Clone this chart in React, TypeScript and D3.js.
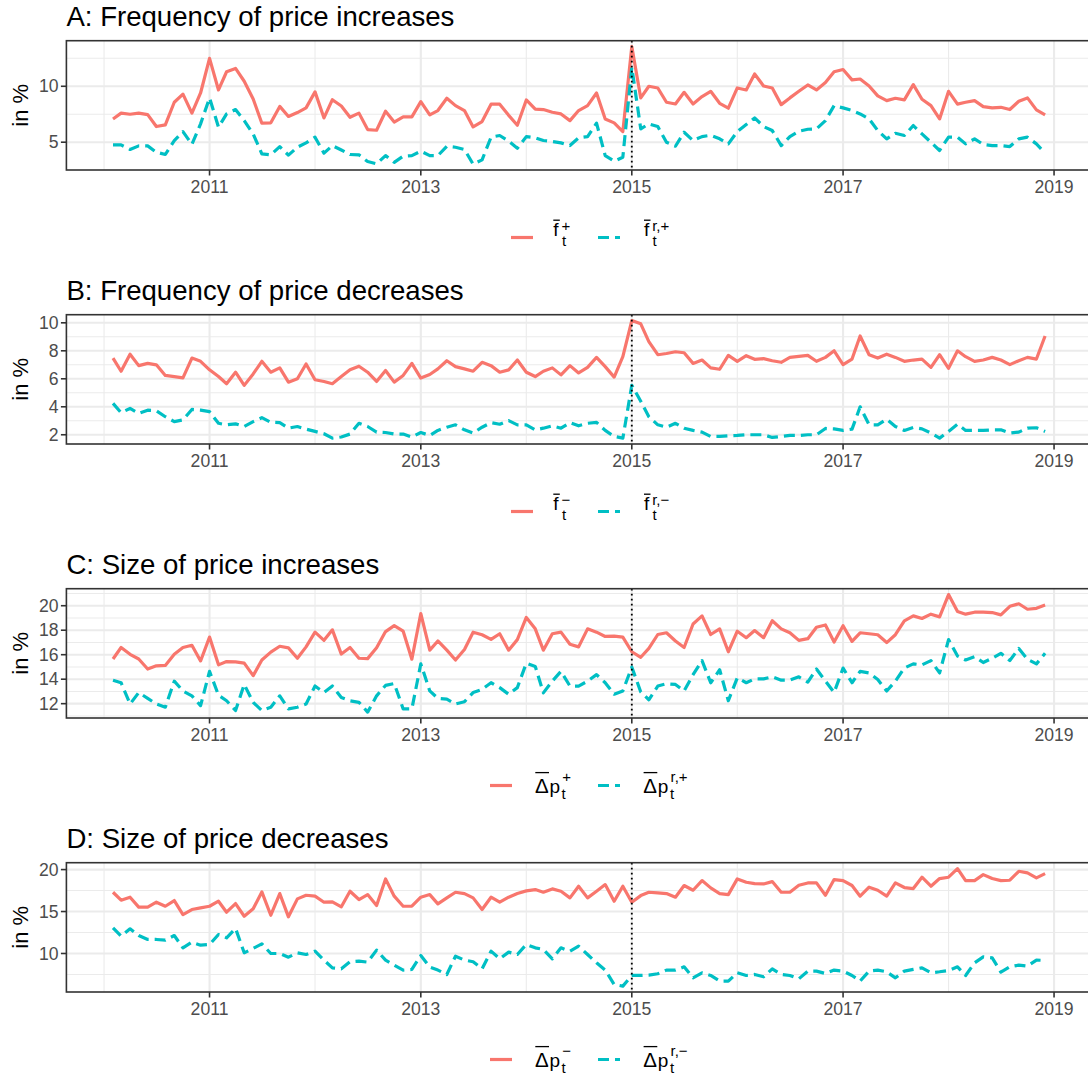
import React from "react";
import * as d3 from "d3";

// monthly observations, Feb 2010 .. Dec 2018
const months = d3.timeMonth.range(new Date(2010, 1, 1), new Date(2019, 0, 1));

// A: frequency of price increases
const freqIncAll = [
  7.08, 7.6, 7.5, 7.6, 7.47, 6.4, 6.55, 8.57, 9.3, 7.6, 9.4,
  12.5, 9.67, 11.3, 11.6, 10.45, 8.87, 6.7, 6.73, 8.2, 7.3, 7.65, 8.07,
  9.5, 7.17, 8.8, 8.24, 7.23, 7.6, 6.13, 6.07, 7.77, 6.8, 7.26, 7.26,
  8.63, 7.44, 7.83, 8.93, 8.27, 7.83, 6.37, 6.85, 8.4, 8.4, 7.4, 6.52,
  8.78, 7.95, 7.92, 7.68, 7.53, 6.93, 7.83, 8.27, 9.4, 7.08, 6.73, 5.95,
  13.55, 8.96, 10.0, 9.85, 8.57, 8.42, 9.46, 8.42, 9.08, 9.55, 8.48, 8.04,
  9.85, 9.67, 11.1, 10.03, 9.85, 8.36, 8.96, 9.55, 10.12, 9.67, 10.33, 11.3,
  11.5, 10.57, 10.65, 10.03, 9.14, 8.72, 8.93, 8.78, 10.15, 8.84, 8.27, 7.08,
  9.55, 8.4, 8.57, 8.72, 8.18, 8.07, 8.12, 7.92, 8.66, 8.96, 7.89, 7.44,
];
const freqIncReg = [
  4.76, 4.76, 4.35, 4.67, 4.67, 4.1, 3.9, 5.15, 5.95, 4.8, 6.64,
  8.96, 6.34, 7.53, 7.92, 6.93, 5.74, 3.96, 3.87, 4.61, 3.84, 4.55, 4.94,
  5.45, 4.02, 4.7, 4.3, 3.9, 3.87, 3.27, 3.07, 3.8, 3.2, 3.75, 3.8,
  4.2, 3.8, 3.8, 4.64, 4.55, 4.35, 3.04, 3.42, 5.45, 5.6, 5.1, 4.46,
  5.5, 5.39, 5.15, 5.06, 4.94, 4.7, 5.39, 5.5, 6.7, 3.8, 3.3, 3.66,
  11.7, 6.19, 6.64, 6.4, 5.0, 4.64, 5.89, 5.15, 5.5, 5.62, 5.3, 4.85,
  5.95, 6.58, 7.17, 6.4, 6.04, 4.7, 5.5, 5.98, 6.16, 6.19, 6.93, 8.27,
  8.07, 7.83, 7.53, 7.08, 6.04, 5.3, 5.8, 5.6, 6.49, 5.74, 5.0, 4.26,
  5.45, 5.45, 4.85, 5.3, 4.8, 4.7, 4.7, 4.61, 5.3, 5.45, 4.85, 4.04,
];

// B: frequency of price decreases
const freqDecAll = [
  7.48, 6.54, 7.76, 6.94, 7.1, 7.0, 6.24, 6.16, 6.07, 7.48, 7.25,
  6.64, 6.16, 5.65, 6.47, 5.53, 6.35, 7.25, 6.47, 6.78, 5.76, 6.0, 7.06,
  5.93, 5.81, 5.65, 6.16, 6.64, 6.9, 6.47, 5.81, 6.59, 5.76, 6.24, 7.1,
  6.05, 6.31, 6.71, 7.29, 6.87, 6.71, 6.54, 7.18, 6.94, 6.47, 6.64, 7.34,
  6.47, 6.16, 6.54, 6.78, 6.28, 6.94, 6.42, 6.82, 7.53, 6.87, 6.12, 7.58,
  10.16, 9.93, 8.66, 7.72, 7.81, 7.93, 7.86, 7.1, 7.34, 6.78, 6.68, 7.67,
  7.25, 7.65, 7.39, 7.44, 7.29, 7.18, 7.53, 7.6, 7.67, 7.25, 7.53, 8.0,
  7.01, 7.41, 9.06, 7.72, 7.48, 7.76, 7.53, 7.25, 7.34, 7.41, 6.82, 7.72,
  6.75, 8.0, 7.58, 7.25, 7.34, 7.53, 7.34, 7.01, 7.29, 7.53, 7.41, 9.06,
];
const freqDecReg = [
  4.24, 3.58, 3.88, 3.53, 3.76, 3.72, 3.29, 2.94, 3.06, 3.81, 3.76,
  3.65, 2.82, 2.71, 2.78, 2.59, 2.94, 3.22, 2.89, 2.87, 2.47, 2.59, 2.4,
  2.24, 2.07, 1.76, 1.84, 2.05, 2.82, 2.59, 2.19, 2.16, 2.05, 2.05, 1.84,
  2.16, 1.95, 2.31, 2.54, 2.71, 2.35, 2.12, 2.54, 2.87, 2.75, 3.01, 2.71,
  2.71, 2.35, 2.47, 2.64, 2.47, 2.87, 2.64, 2.82, 2.89, 2.31, 1.88, 1.76,
  5.53, 4.4, 3.29, 2.71, 2.54, 2.82, 2.47, 2.31, 2.19, 1.88, 1.88, 1.93,
  1.95, 2.0, 2.0, 2.0, 1.81, 1.88, 1.95, 1.95, 2.0, 2.0, 2.45, 2.42,
  2.31, 2.4, 4.0, 2.71, 2.71, 3.11, 2.59, 2.31, 2.52, 2.42, 2.12, 1.76,
  2.24, 2.75, 2.31, 2.31, 2.31, 2.35, 2.35, 2.12, 2.19, 2.47, 2.5, 2.24,
];

// C: size of price increases
const sizeIncAll = [
  15.65, 16.59, 16.03, 15.65, 14.83, 15.09, 15.12, 16.03, 16.59, 16.77, 15.49,
  17.44, 15.17, 15.44, 15.41, 15.31, 14.29, 15.57, 16.21, 16.69, 16.56, 15.71, 16.64,
  17.84, 17.17, 18.03, 16.05, 16.59, 15.71, 15.68, 16.56, 17.89, 18.37, 17.92, 15.63,
  19.36, 16.37, 17.12, 16.37, 15.57, 16.43, 17.84, 17.63, 17.25, 17.71, 16.37, 17.23,
  19.04, 18.11, 16.37, 17.71, 17.84, 16.85, 16.64, 18.11, 17.84, 17.49, 17.52, 17.44,
  16.24, 15.79, 16.51, 17.65, 17.79, 17.12, 16.59, 18.51, 19.17, 17.65, 18.11, 16.24,
  17.92, 17.39, 17.97, 17.39, 18.77, 18.11, 17.79, 17.17, 17.31, 18.24, 18.43, 17.04,
  18.37, 17.09, 17.79, 17.71, 17.63, 16.99, 17.63, 18.77, 19.17, 18.96, 19.31, 19.09,
  20.91, 19.52, 19.31, 19.47, 19.47, 19.44, 19.25, 19.95, 20.16, 19.71, 19.79, 20.05,
];
const sizeIncReg = [
  13.92, 13.71, 11.97, 12.91, 12.43, 11.97, 11.71, 13.84, 13.04, 12.64, 11.84,
  14.64, 12.69, 12.24, 11.44, 13.57, 12.11, 11.44, 11.71, 12.64, 11.57, 11.71, 11.97,
  13.44, 12.91, 13.44, 12.51, 12.24, 12.11, 11.31, 12.64, 13.49, 13.65, 11.57, 11.57,
  15.25, 13.04, 12.43, 12.37, 11.97, 12.16, 12.91, 13.17, 13.71, 13.31, 12.77, 13.31,
  15.31, 15.04, 12.88, 13.84, 14.64, 13.44, 13.44, 13.84, 14.37, 13.71, 12.77, 13.04,
  14.99, 12.96, 12.32, 13.44, 13.63, 13.57, 13.04, 14.37, 15.52, 13.71, 14.77, 12.24,
  14.11, 13.71, 14.03, 14.03, 14.19, 13.92, 13.92, 14.19, 13.76, 14.83, 13.84, 12.91,
  14.91, 13.71, 14.64, 14.51, 13.97, 13.04, 13.84, 14.91, 15.25, 15.17, 15.52, 14.51,
  17.23, 15.89, 15.57, 15.84, 15.36, 15.71, 16.11, 15.52, 16.51, 15.63, 15.25, 16.11,
];

// D: size of price decreases
const sizeDecAll = [
  17.3, 16.35, 16.71, 15.52, 15.52, 16.11, 15.63, 16.31, 14.64, 15.24, 15.44,
  15.63, 16.23, 14.92, 15.95, 14.44, 15.32, 17.34, 14.56, 17.14, 14.37, 16.51, 16.94,
  16.83, 16.11, 16.15, 15.56, 17.42, 16.43, 17.02, 15.71, 18.89, 16.83, 15.63, 15.63,
  16.71, 17.02, 15.91, 16.63, 17.3, 17.14, 16.63, 15.24, 16.71, 16.11, 16.71, 17.14,
  17.46, 17.62, 17.3, 17.7, 17.42, 16.63, 18.02, 16.63, 17.42, 18.21, 16.23, 18.02,
  16.11, 16.9, 17.3, 17.22, 17.14, 16.71, 18.1, 17.54, 18.69, 17.82, 17.14, 17.02,
  18.89, 18.49, 18.33, 18.29, 18.57, 17.3, 17.3, 18.13, 18.41, 18.41, 16.94, 18.81,
  18.69, 18.1, 16.83, 17.9, 17.54, 16.83, 18.41, 17.86, 17.74, 19.09, 18.02, 18.93,
  19.09, 20.12, 18.69, 18.69, 19.4, 18.93, 18.69, 18.73, 19.8, 19.6, 19.01, 19.52,
];
const sizeDecReg = [
  13.06, 12.06, 12.94, 12.14, 11.67, 11.67, 11.59, 12.14, 10.67, 11.35, 10.99,
  11.07, 12.26, 11.87, 12.98, 10.08, 10.6, 11.15, 10.0, 10.0, 9.56, 10.08, 9.88,
  10.28, 9.21, 8.29, 8.17, 9.01, 9.09, 8.97, 10.4, 9.21, 8.61, 8.02, 8.1,
  9.76, 8.37, 8.02, 7.5, 9.68, 9.21, 9.01, 8.17, 10.28, 9.37, 10.16, 9.88,
  11.07, 10.67, 10.48, 9.37, 10.67, 10.28, 10.87, 9.88, 8.89, 8.02, 6.31, 6.11,
  7.38, 7.38, 7.42, 7.58, 8.02, 8.02, 8.41, 7.1, 7.7, 7.38, 6.71, 6.71,
  7.7, 7.38, 7.5, 7.22, 8.17, 7.5, 7.38, 6.98, 7.9, 7.9, 7.62, 8.02,
  7.9, 7.38, 6.71, 7.9, 8.02, 7.82, 7.1, 7.9, 8.1, 8.29, 7.7, 7.82,
  7.98, 8.41, 7.38, 8.89, 9.6, 9.48, 7.78, 8.41, 8.61, 8.49, 9.21, 9.17,
];

const panelTitles = [
  "A: Frequency of price increases",
  "B: Frequency of price decreases",
  "C: Size of price increases",
  "D: Size of price decreases",
];
const yTicksA = [5, 10];
const yTicksB = [2, 4, 6, 8, 10];
const yTicksC = [12, 14, 16, 18, 20];
const yTicksD = [10, 15, 20];
const xTickYears = [2011, 2013, 2015, 2017, 2019];
const xMinorYears = [2010, 2012, 2014, 2016, 2018];
const breakDate = new Date(2015, 0, 1);

// legend labels: base symbol (with bar over first glyph), superscripts of the two series
const legendBase = ["f", "f", "Δp", "Δp"];
const legendSups = [["+", "r,+"], ["−", "r,−"], ["+", "r,+"], ["−", "r,−"]];

const W = 1088;
const H = 1076;
const FONT = '"Liberation Sans", Arial, Helvetica, sans-serif';
const RED = "#F8766D";
const CYAN = "#00BFC4";
const GRID = "#EBEBEB";
const DARK = "#333333";
const AXIS_TXT = "#4D4D4D";
const LEFT = 66.4;
const RIGHT = 1091.7;
const TOP0 = 40.7;
const STEP = 274;
const PH = 129.3;

const panels = [
  { all: freqIncAll, reg: freqIncReg, ticks: yTicksA },
  { all: freqDecAll, reg: freqDecReg, ticks: yTicksB },
  { all: sizeIncAll, reg: sizeIncReg, ticks: yTicksC },
  { all: sizeDecAll, reg: sizeDecReg, ticks: yTicksD },
];

const t0 = +months[0];
const t1 = +months[months.length - 1];
const xPad = (t1 - t0) * 0.05;
const x = d3.scaleTime().domain([new Date(t0 - xPad), new Date(t1 + xPad)]).range([LEFT, RIGHT]);

function LegendLabel({ x0, base, sup, keyY }: { x0: number; base: string; sup: string; keyY: number }) {
  const delta = base.startsWith("Δ");
  if (delta) {
    const bl = keyY + 7.4;
    return (
      <g fontFamily={FONT} fill="#000">
        <text x={x0} y={bl} fontSize={20.5}>Δ</text>
        <line x1={x0 + 0.3} x2={x0 + 14} y1={bl - 20.3} y2={bl - 20.3} stroke="#000" strokeWidth={1.3} />
        <text x={x0 + 14.4} y={bl} fontSize={19}>p</text>
        <text x={x0 + 27.2} y={bl - 11} fontSize={15}>{sup}</text>
        <text x={x0 + 26.6} y={bl + 6} fontSize={15}>t</text>
      </g>
    );
  }
  const bl = keyY - 1.5;
  return (
    <g fontFamily={FONT} fill="#000">
      <text x={x0} y={bl} fontSize={19}>f</text>
      <line x1={x0} x2={x0 + 6.5} y1={bl - 15.8} y2={bl - 15.8} stroke="#000" strokeWidth={1.3} />
      <text x={x0 + 8.2} y={bl - 5.4} fontSize={15}>{sup}</text>
      <text x={x0 + 8.6} y={bl + 10.2} fontSize={15}>t</text>
    </g>
  );
}

function Panel({ idx }: { idx: number }) {
  const { all, reg, ticks } = panels[idx];
  const top = TOP0 + idx * STEP;
  const bottom = top + PH;
  const [lo, hi] = d3.extent(all.concat(reg)) as [number, number];
  const pad = (hi - lo) * 0.05;
  const y = d3.scaleLinear().domain([lo - pad, hi + pad]).range([bottom, top]);
  const st = ticks[1] - ticks[0];
  const minor = d3.range(ticks[0] - st / 2, hi + pad, st).filter((v) => v >= lo - pad && v <= hi + pad);
  const line = d3.line<number>().x((_, i) => x(months[i])).y((d) => y(d)).curve(d3.curveLinear);

  const keyY = bottom + 67.5;
  const delta = legendBase[idx].startsWith("Δ");
  const x0 = delta ? 490 : 511;
  const lab1 = delta ? 535 : 553.3;
  const keyB = 598;
  const lab2 = delta ? 643.3 : 644;

  return (
    <g>
      <text x={LEFT} y={top - 15} fontFamily={FONT} fontSize={27.6} fill="#000">{panelTitles[idx]}</text>
      {/* grid */}
      {minor.map((v) => (
        <line key={"my" + v} x1={LEFT} x2={RIGHT} y1={y(v)} y2={y(v)} stroke={GRID} strokeWidth={1.07} />
      ))}
      {xMinorYears.map((yr) => (
        <line key={"mx" + yr} x1={x(new Date(yr, 0, 1))} x2={x(new Date(yr, 0, 1))} y1={top} y2={bottom} stroke={GRID} strokeWidth={1.07} />
      ))}
      {ticks.map((v) => (
        <line key={"gy" + v} x1={LEFT} x2={RIGHT} y1={y(v)} y2={y(v)} stroke={GRID} strokeWidth={2.1} />
      ))}
      {xTickYears.map((yr) => (
        <line key={"gx" + yr} x1={x(new Date(yr, 0, 1))} x2={x(new Date(yr, 0, 1))} y1={top} y2={bottom} stroke={GRID} strokeWidth={2.1} />
      ))}
      {/* series */}
      <path d={line(all) || ""} fill="none" stroke={RED} strokeWidth={3.2} strokeLinejoin="round" />
      <path d={line(reg) || ""} fill="none" stroke={CYAN} strokeWidth={3.2} strokeLinejoin="round" strokeDasharray="11 6" />
      <line x1={x(breakDate)} x2={x(breakDate)} y1={top} y2={bottom} stroke="#000" strokeWidth={1.8} strokeDasharray="1.8 3.2" />
      <rect x={LEFT} y={top} width={RIGHT - LEFT} height={PH} fill="none" stroke={DARK} strokeWidth={1.6} />
      {/* y axis */}
      {ticks.map((v) => (
        <g key={"ty" + v}>
          <line x1={LEFT - 5.5} x2={LEFT} y1={y(v)} y2={y(v)} stroke={DARK} strokeWidth={1.6} />
          <text x={LEFT - 7.8} y={y(v)} dy="0.35em" textAnchor="end" fontFamily={FONT} fontSize={17.6} fill={AXIS_TXT}>{v}</text>
        </g>
      ))}
      <text transform={`translate(28.3,${(top + bottom) / 2}) rotate(-90)`} textAnchor="middle" fontFamily={FONT} fontSize={22} fill="#000">in %</text>
      {/* x axis */}
      {xTickYears.map((yr) => {
        const px = x(new Date(yr, 0, 1));
        return (
          <g key={"tx" + yr}>
            <line x1={px} x2={px} y1={bottom} y2={bottom + 5.5} stroke={DARK} strokeWidth={1.6} />
            <text x={px} y={bottom + 22.7} textAnchor="middle" fontFamily={FONT} fontSize={17.6} fill={AXIS_TXT}>{yr}</text>
          </g>
        );
      })}
      {/* legend */}
      <line x1={x0} x2={x0 + 22} y1={keyY} y2={keyY} stroke={RED} strokeWidth={3.2} />
      <LegendLabel x0={lab1} base={legendBase[idx]} sup={legendSups[idx][0]} keyY={keyY} />
      <line x1={keyB} x2={keyB + 22} y1={keyY} y2={keyY} stroke={CYAN} strokeWidth={3.2} strokeDasharray="11 6" />
      <LegendLabel x0={lab2} base={legendBase[idx]} sup={legendSups[idx][1]} keyY={keyY} />
    </g>
  );
}

export default function App() {
  return (
    <svg width={W} height={H} style={{ position: "absolute", left: 0, top: 0, background: "#fff" }}>
      {panels.map((_, i) => (
        <Panel key={i} idx={i} />
      ))}
    </svg>
  );
}
